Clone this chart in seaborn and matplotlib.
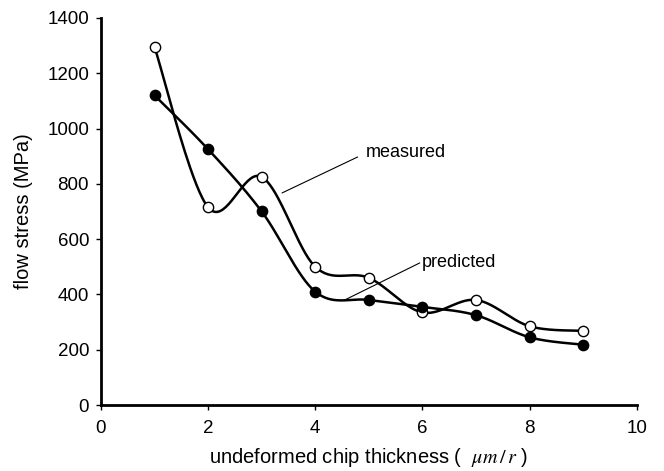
import numpy as np
import pandas as pd
import matplotlib
matplotlib.use("Agg")
import matplotlib.pyplot as plt
import seaborn as sns

# valores
thickness = [1, 2, 3, 4, 5, 6, 7, 8, 9]
measured = [1295, 715, 825, 500, 460, 335, 380, 285, 268]
predicted = [1120, 925, 700, 410, 380, 355, 325, 245, 218]


def smooth_curve(x, y, n=40):
    # curva suavizada tipo Excel (Bezier Catmull-Rom) solo para dibujar la linea
    p = np.column_stack([x, y]).astype(float)
    p = np.vstack([p[0], p, p[-1]])
    out = []
    t = np.linspace(0, 1, n)[:, None]
    for i in range(1, len(p) - 2):
        b0 = p[i]
        b3 = p[i + 1]
        b1 = b0 + (p[i + 1] - p[i - 1]) / 6
        b2 = b3 - (p[i + 2] - p[i]) / 6
        seg = ((1 - t) ** 3) * b0 + 3 * ((1 - t) ** 2) * t * b1 + 3 * (1 - t) * t ** 2 * b2 + t ** 3 * b3
        out.append(seg if i == 1 else seg[1:])
    out = np.vstack(out)
    return out[:, 0], out[:, 1]


sns.set_theme(style="white")
plt.rcParams["font.family"] = ["Liberation Sans", "DejaVu Sans"]
plt.rcParams["mathtext.fontset"] = "stix"
plt.rcParams["text.color"] = "black"
plt.rcParams["axes.labelcolor"] = "black"

fig = plt.figure(figsize=(6.64, 4.71), dpi=100)
ax = fig.add_axes([0.152, 0.140, 0.807, 0.822])

for serie in [measured, predicted]:
    xs, ys = smooth_curve(thickness, serie)
    curva = pd.DataFrame({"x": xs, "y": ys})
    sns.lineplot(data=curva, x="x", y="y", ax=ax, color="black", lw=1.8, sort=False, zorder=2)

df = pd.DataFrame({"x": thickness, "measured": measured, "predicted": predicted})
sns.scatterplot(data=df, x="x", y="measured", ax=ax, s=55, facecolor="white",
                edgecolor="black", linewidth=1.0, zorder=3)
sns.scatterplot(data=df, x="x", y="predicted", ax=ax, s=55, color="black",
                edgecolor="black", linewidth=1.0, zorder=3)

# etiquetas con linea guia
ax.plot([3.38, 4.79], [767, 897], color="black", lw=0.8)
ax.text(4.95, 912, "measured", fontsize=13, va="center", ha="left")
ax.plot([4.55, 5.95], [380, 514], color="black", lw=0.8)
ax.text(5.99, 517, "predicted", fontsize=13, va="center", ha="left")

ax.set_xlim(0, 10)
ax.set_ylim(0, 1400)
ax.set_xticks(range(0, 11, 2))
ax.set_yticks(range(0, 1401, 200))
ax.set_xlabel(r"undeformed chip thickness (  $\mu m\,/\,r$ )", fontsize=14.5)
ax.set_ylabel("flow stress (MPa)", fontsize=14.5)
ax.xaxis.set_label_coords(0.5, -0.106)
ax.yaxis.set_label_coords(-0.127, 0.5)
ax.tick_params(axis="both", labelsize=13.5, length=3.5, width=1, direction="out",
               bottom=True, left=True, colors="black")
ax.tick_params(axis="x", pad=7)
ax.tick_params(axis="y", pad=5)

sns.despine(ax=ax)
for s in ["left", "bottom"]:
    ax.spines[s].set_linewidth(2)
    ax.spines[s].set_color("black")

fig.savefig("out.png", dpi=100)
